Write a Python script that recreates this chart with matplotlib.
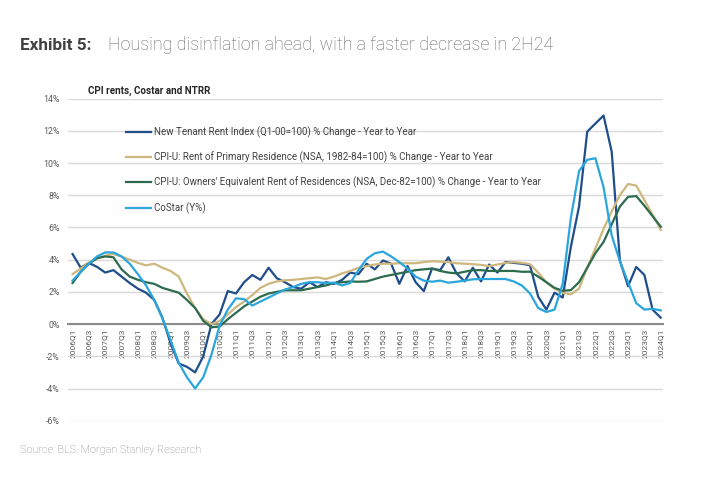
import matplotlib
matplotlib.use("Agg")
import matplotlib.pyplot as plt
import numpy as np

# quarterly labels 2006Q1 .. 2024Q1
quarters = ["%dQ%d" % (y, q) for y in range(2006, 2025) for q in range(1, 5)][:73]

# New Tenant Rent Index, % change y/y
ntrr = [4.35, 3.5, 3.8, 3.55, 3.2, 3.35, 2.95, 2.55, 2.2, 1.95,
        1.5, 0.4, -1.2, -2.45, -2.65, -3.0, -2.0, 0.0, 0.6, 2.05,
        1.9, 2.6, 3.05, 2.75, 3.5, 2.85, 2.6, 2.3, 2.2, 2.6,
        2.3, 2.6, 2.5, 2.75, 3.2, 3.1, 3.75, 3.4, 3.95, 3.75,
        2.5, 3.6, 2.6, 2.05, 3.45, 3.35, 4.15, 3.15, 2.65, 3.5,
        2.65, 3.7, 3.2, 3.85, 3.8, 3.75, 3.65, 1.7, 0.9, 1.95,
        1.65, 4.8, 7.3, 11.95, 12.45, 12.95, 10.7, 3.95, 2.35, 3.55,
        3.05, 0.9, 0.4]

# CPI-U rent of primary residence
rent = [3.1, 3.45, 3.8, 4.05, 4.25, 4.35, 4.2, 4.0, 3.8, 3.65,
        3.75, 3.5, 3.3, 2.95, 1.9, 1.0, 0.3, 0.0, 0.2, 0.6,
        1.05, 1.4, 1.8, 2.25, 2.5, 2.65, 2.72, 2.75, 2.8, 2.85,
        2.9, 2.8, 2.95, 3.15, 3.3, 3.5, 3.6, 3.7, 3.75, 3.75,
        3.78, 3.78, 3.78, 3.85, 3.9, 3.88, 3.85, 3.78, 3.75, 3.72,
        3.68, 3.6, 3.7, 3.8, 3.85, 3.8, 3.72, 3.2, 2.6, 2.2,
        1.95, 1.85, 2.2, 3.5, 4.7, 5.9, 7.0, 8.0, 8.7, 8.6,
        7.7, 6.8, 5.85]

# CPI-U owners' equivalent rent
oer = [2.55, 3.25, 3.75, 4.1, 4.2, 4.15, 3.4, 2.95, 2.75, 2.6,
       2.5, 2.25, 2.1, 1.95, 1.5, 1.0, 0.2, -0.2, -0.15, 0.3,
       0.7, 1.1, 1.4, 1.7, 1.9, 2.0, 2.1, 2.1, 2.1, 2.2,
       2.3, 2.4, 2.55, 2.6, 2.65, 2.63, 2.65, 2.8, 2.95, 3.05,
       3.15, 3.25, 3.35, 3.4, 3.45, 3.3, 3.2, 3.15, 3.25, 3.35,
       3.35, 3.3, 3.3, 3.3, 3.3, 3.25, 3.25, 2.95, 2.6, 2.25,
       2.07, 2.11, 2.6, 3.5, 4.4, 5.1, 6.2, 7.3, 7.9, 7.95,
       7.35, 6.7, 6.05]

# CoStar y/y
costar = [2.7, 3.25, 3.75, 4.2, 4.45, 4.45, 4.2, 3.75, 3.1, 2.4,
          1.5, 0.35, -1.0, -2.4, -3.3, -4.0, -3.3, -1.9, -0.1, 0.9,
          1.6, 1.55, 1.15, 1.4, 1.65, 1.9, 2.15, 2.3, 2.5, 2.6,
          2.6, 2.55, 2.57, 2.4, 2.55, 3.35, 4.05, 4.4, 4.5, 4.2,
          3.85, 3.45, 2.95, 2.7, 2.63, 2.7, 2.57, 2.63, 2.7, 2.78,
          2.8, 2.8, 2.8, 2.8, 2.65, 2.4, 1.9, 1.0, 0.75, 0.9,
          2.5, 6.6, 9.5, 10.2, 10.3, 8.5, 5.5, 3.9, 2.6, 1.3,
          0.9, 0.95, 0.85]

labels = ["New Tenant Rent Index (Q1-00=100) % Change - Year to Year",
          "CPI-U: Rent of Primary Residence (NSA, 1982-84=100) % Change - Year to Year",
          "CPI-U: Owners' Equivalent Rent of Residences (NSA, Dec-82=100) % Change - Year to Year",
          "CoStar (Y%)"]
colors = ["#1f4e8a", "#cdb77c", "#2d6b4f", "#2aa6dc"]

plt.rcParams['font.family'] = ['Roboto', 'DejaVu Sans']

fig = plt.figure(figsize=(7.24, 4.8), dpi=100)
ax = fig.add_axes([0.094, 0.1235, 0.822, 0.671])

x = np.arange(len(quarters))
for s, lab, c in zip([ntrr, rent, oer, costar], labels, colors):
    ax.plot(x, s, color=c, lw=1.6, label=lab, zorder=3)

# zero line carries the quarter labels
for sp in ['top', 'right', 'left']:
    ax.spines[sp].set_visible(False)
ax.spines['bottom'].set_position(('data', 0))
ax.spines['bottom'].set_color('#8c8c8c')
ax.spines['bottom'].set_linewidth(1.5)
ax.spines['bottom'].set_zorder(2)

ax.set_xlim(-0.55, 72.3)
ax.set_ylim(-6, 14)
ax.set_yticks(range(-6, 15, 2))
ax.set_yticklabels(["%d%%" % v for v in range(-6, 15, 2)])
ax.set_xticks(x[::2])
ax.set_xticklabels(quarters[::2], rotation=90)
ax.grid(axis='y', color='#d9d9d9', lw=1)
ax.set_axisbelow(True)
ax.tick_params(axis='both', length=0, labelsize=6, labelcolor='#595959')
ax.tick_params(axis='y', pad=6, labelsize=6.3)
ax.tick_params(axis='x', pad=3)

leg = ax.legend(loc='upper left', bbox_to_anchor=(0.09, 0.925), frameon=False,
                fontsize=7, handlelength=2.6, handletextpad=0.35,
                labelspacing=1.4, borderaxespad=0)
for t in leg.get_texts():
    t.set_color('#404040')

fig.text(0.028, 0.895, "Exhibit 5:", fontsize=12.3, fontweight='bold', color='#404040')
fig.text(0.149, 0.895, "Housing disinflation ahead, with a faster decrease in 2H24",
         fontsize=12.9, fontweight='light', color='#666666')
fig.text(0.1215, 0.804, "CPI rents, Costar and NTRR", fontsize=7.1, fontweight='bold',
         color='#262626', family=['Liberation Sans Narrow', 'Roboto', 'DejaVu Sans'])
fig.text(0.028, 0.057, "Source: BLS, Morgan Stanley Research", fontsize=7.8,
         fontweight='light', color='#808080')

fig.savefig("out.png", dpi=100)
